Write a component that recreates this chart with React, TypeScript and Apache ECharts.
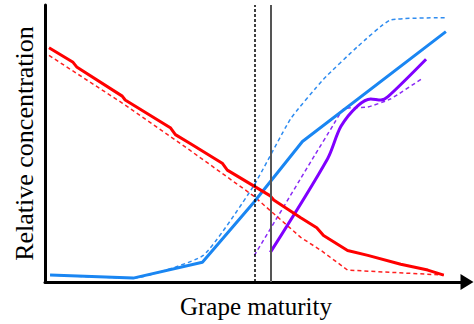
import React, { useEffect, useRef } from "react";
import * as echarts from "echarts";

// Data in arbitrary units: x = grape maturity (0-100), y = relative concentration (0-100)
const redSolid: [number, number][] = [
  [0.95, 84.6], [6.65, 79.3], [7.6, 77.5], [18.3, 67.1], [19.0, 65.7],
  [29.7, 55.7], [30.9, 53.2], [34.4, 50.0], [42.0, 42.9], [43.2, 40.4],
  [53.4, 31.1], [54.2, 29.6], [60.6, 23.2], [64.4, 19.6], [66.0, 16.8],
  [71.7, 11.4], [76.5, 9.6], [84.3, 6.4], [90.7, 4.3], [94.5, 2.5],
];
const redDashed: [number, number][] = [
  [0.95, 81.8], [18.3, 64.6], [34.4, 47.5], [49.4, 31.1], [60.6, 16.1],
  [65.4, 11.4], [71.7, 4.3], [94.5, 2.5],
];
const blueSolid: [number, number][] = [
  [1.2, 2.5], [20.9, 1.4], [37.3, 7.1], [49.4, 28.6], [61.0, 50.7], [95.0, 90.4],
];
const blueDashed: [number, number][] = [
  [1.2, 2.5], [20.9, 1.4], [37.5, 9.6], [49.4, 34.6], [58.2, 58.9],
  [66.0, 73.2], [74.1, 85.0], [81.9, 94.6], [95.0, 95.4],
];
const purpleSolid: [number, number][] = [
  [53.4, 10.7], [67.0, 44.6], [70.1, 56.1], [74.1, 63.6], [77.2, 66.1],
  [79.6, 65.7], [81.2, 66.8], [90.3, 80.4],
];
const purpleDashed: [number, number][] = [
  [49.6, 9.6], [63.9, 45.7], [68.2, 56.4], [70.8, 62.5], [76.5, 63.2],
  [81.9, 66.1], [89.5, 73.6],
];
const markerDashedX = 49.6;
const markerSolidX = 53.4;

const FONT = "'Liberation Serif', 'Times New Roman', serif";

export default function App() {
  const ref = useRef<HTMLDivElement>(null);
  useEffect(() => {
    document.body.style.margin = "0";
    if (!ref.current) return;
    const chart = echarts.init(ref.current, undefined, { renderer: "svg" });
    const line = (
      data: [number, number][],
      color: string,
      width: number,
      dashed: boolean,
      z: number,
      smooth: number = 0
    ) => ({
      type: "line",
      data,
      showSymbol: false,
      symbol: "none",
      z,
      smooth,
      lineStyle: { color, width, type: dashed ? [4, 3] : "solid" },
    });
    chart.setOption({
      animation: false,
      grid: { left: 45, right: 7, top: 5, bottom: 39 },
      xAxis: {
        type: "value",
        min: 0,
        max: 100,
        axisLine: {
          show: true,
          lineStyle: { color: "#000", width: 3 },
          symbol: ["none", "triangle"],
          symbolSize: [16, 13],
        },
        axisTick: { show: false },
        axisLabel: { show: false },
        splitLine: { show: false },
        name: "Grape maturity",
        nameLocation: "middle",
        nameGap: 12,
        nameTextStyle: { fontFamily: FONT, fontSize: 25, color: "#000" },
      },
      yAxis: {
        type: "value",
        min: 0,
        max: 100,
        axisLine: { show: true, lineStyle: { color: "#000", width: 3 } },
        axisTick: { show: false },
        axisLabel: { show: false },
        splitLine: { show: false },
        name: "Relative concentration",
        nameLocation: "middle",
        nameRotate: 90,
        nameGap: 8,
        nameTextStyle: { fontFamily: FONT, fontSize: 26, color: "#000" },
      },
      series: [
        {
          type: "line",
          data: [],
          markLine: {
            silent: true,
            symbol: "none",
            label: { show: false },
            data: [
              { xAxis: markerDashedX, lineStyle: { color: "#000", width: 1.5, type: [3, 2] } },
              { xAxis: markerSolidX, lineStyle: { color: "#555", width: 2, type: "solid" } },
            ],
          },
        },
        line(blueDashed, "#2f8cf0", 1.5, true, 2, 0.15),
        line(blueSolid, "#1a86f2", 3, false, 3),
        line(purpleDashed, "#8a2bf5", 1.5, true, 2, 0.15),
        line(purpleSolid, "#8000ff", 3, false, 3, 0.3),
        line(redDashed, "#ff2020", 1.5, true, 2),
        line(redSolid, "#ff0000", 3, false, 4),
      ],
    });
    return () => chart.dispose();
  }, []);
  return <div ref={ref} style={{ width: 474, height: 324 }} />;
}
